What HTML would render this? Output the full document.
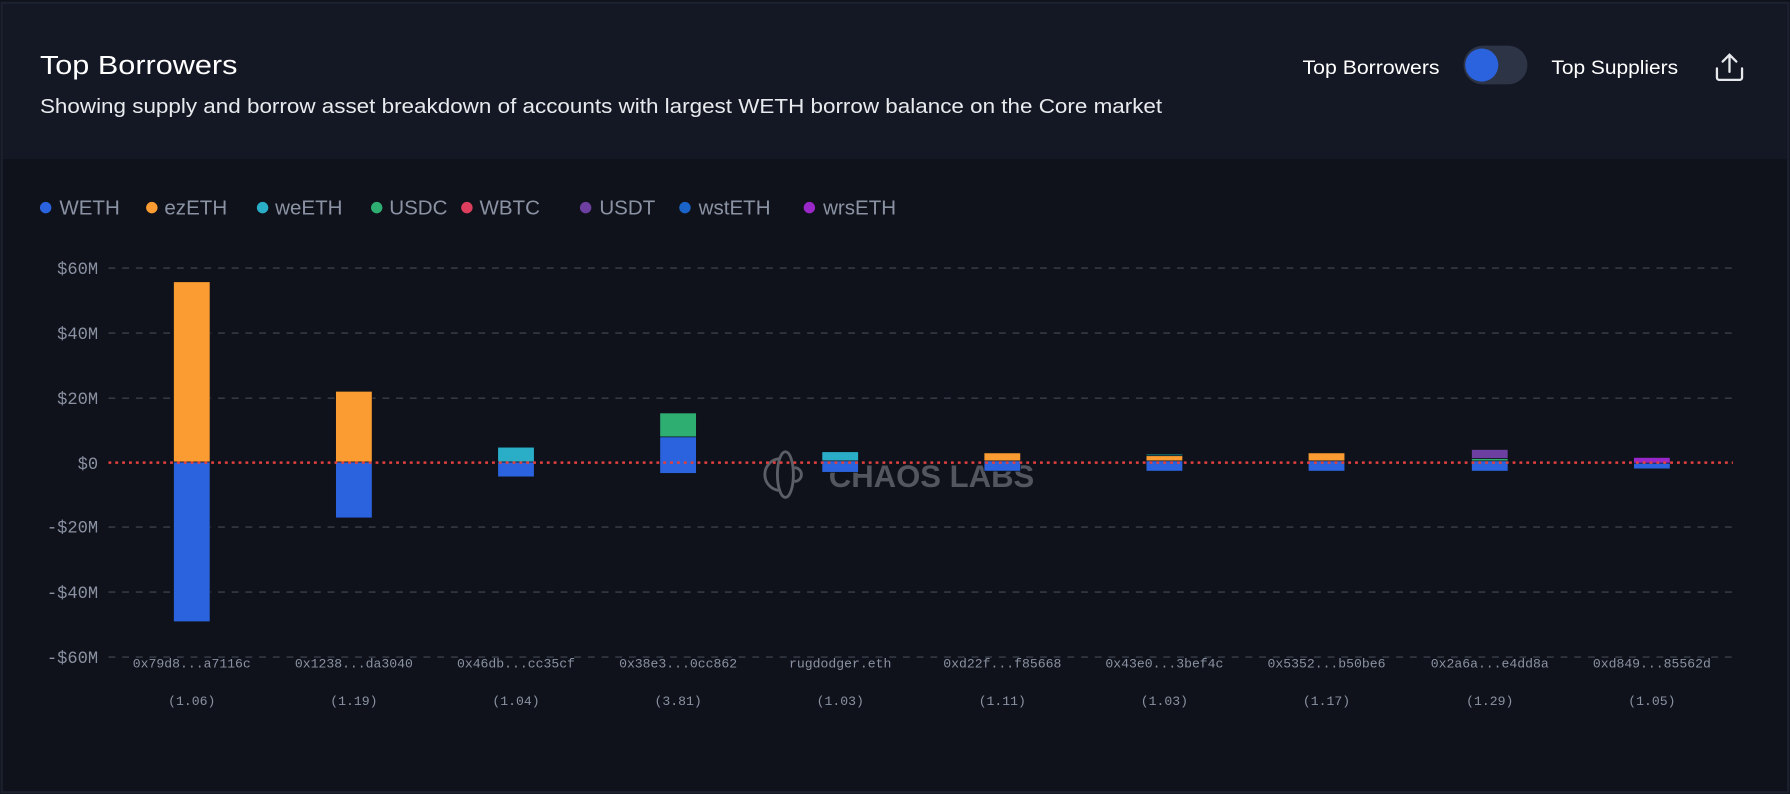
<!DOCTYPE html>
<html><head><meta charset="utf-8"><style>
html,body{margin:0;padding:0;background:#0f121a;}
svg{display:block}
</style></head><body>
<svg width="1790" height="794" viewBox="0 0 1568 696" preserveAspectRatio="none" xmlns="http://www.w3.org/2000/svg">
<rect x="0" y="0" width="1568" height="696" fill="#0f121a"/>
<rect x="1.5" y="2.5" width="1565" height="692" fill="none" stroke="#1c2130" stroke-width="2"/>
<rect x="2.5" y="3.5" width="1563" height="136" fill="#141824"/>
<g font-family="Liberation Sans, sans-serif" fill="#ffffff">
<text x="35" y="65" font-size="23" textLength="173" lengthAdjust="spacingAndGlyphs">Top Borrowers</text>
<text x="35" y="99" font-size="17.5" fill="#e8eaee" textLength="983" lengthAdjust="spacingAndGlyphs">Showing supply and borrow asset breakdown of accounts with largest WETH borrow balance on the Core market</text>
<text x="1141" y="65" font-size="17" textLength="120" lengthAdjust="spacingAndGlyphs">Top Borrowers</text>
<text x="1359" y="65" font-size="17" textLength="111" lengthAdjust="spacingAndGlyphs">Top Suppliers</text>
</g>
<rect x="1282" y="40" width="56" height="34" rx="17" fill="#2d3446"/>
<circle cx="1298" cy="57" r="14.5" fill="#2b63de"/>
<g stroke="#e6e8ec" stroke-width="2" fill="none" stroke-linecap="round">
<path d="M1504 60 v8 a2 2 0 0 0 2 2 h18 a2 2 0 0 0 2 -2 v-8"/>
<path d="M1515 63 V48 M1509 54 l6 -6 6 6"/>
</g>
<g font-family="Liberation Sans, sans-serif" font-size="18" fill="#8a92a3">
<circle cx="40" cy="182" r="5" fill="#2b63de"/><text x="52" y="188">WETH</text>
<circle cx="133" cy="182" r="5" fill="#fa9c31"/><text x="144" y="188">ezETH</text>
<circle cx="230" cy="182" r="5" fill="#2aaec8"/><text x="241" y="188">weETH</text>
<circle cx="330" cy="182" r="5" fill="#2fae72"/><text x="341" y="188">USDC</text>
<circle cx="409" cy="182" r="5" fill="#dd3e5e"/><text x="420" y="188">WBTC</text>
<circle cx="513" cy="182" r="5" fill="#6c3fa0"/><text x="525" y="188">USDT</text>
<circle cx="600" cy="182" r="5" fill="#1a63c9"/><text x="612" y="188">wstETH</text>
<circle cx="709" cy="182" r="5" fill="#9a28c8"/><text x="721" y="188">wrsETH</text>
</g>
<g stroke="#3a3f4b" stroke-width="1.2" stroke-dasharray="6,6">
<line x1="95" y1="235" x2="1518" y2="235"/>
<line x1="95" y1="292" x2="1518" y2="292"/>
<line x1="95" y1="349" x2="1518" y2="349"/>
<line x1="95" y1="462" x2="1518" y2="462"/>
<line x1="95" y1="519" x2="1518" y2="519"/>
<line x1="95" y1="576" x2="1518" y2="576"/>
</g>
<g font-family="Liberation Mono, monospace" font-size="15" fill="#8a92a3" text-anchor="end">
<text x="86" y="240">$60M</text><text x="86" y="297">$40M</text><text x="86" y="354">$20M</text>
<text x="86" y="411">$0</text><text x="86" y="467">-$20M</text><text x="86" y="524">-$40M</text><text x="86" y="581">-$60M</text>
</g>
<g font-family="Liberation Sans, sans-serif" font-size="28" font-weight="bold" fill="#5b5e66" opacity="0.9">
<text x="726" y="427" textLength="180" lengthAdjust="spacingAndGlyphs">CHAOS LABS</text>
</g>
<g fill="none" stroke="#5b5e66" stroke-width="2.5">
<ellipse cx="688" cy="416" rx="7" ry="20"/>
<path d="M684 402 a12 12 0 1 0 0 28"/><path d="M696 410 a6 6 0 1 1 0 12"/>
</g>
<g stroke="#0f121a" stroke-width="0.6">
<rect x="152" y="247" width="32" height="158" fill="#fa9c31"/>
<rect x="152" y="405" width="32" height="140" fill="#2b63de"/>
<rect x="294" y="343" width="32" height="62" fill="#fa9c31"/>
<rect x="294" y="405" width="32" height="49" fill="#2b63de"/>
<rect x="436" y="392" width="32" height="13" fill="#2aaec8"/>
<rect x="436" y="405" width="32" height="13" fill="#2b63de"/>
<rect x="578" y="362" width="32" height="21" fill="#2fae72"/>
<rect x="578" y="383" width="32" height="32" fill="#2b63de"/>
<rect x="720" y="396" width="32" height="8" fill="#2aaec8"/>
<rect x="720" y="404" width="32" height="10" fill="#2b63de"/>
<rect x="862" y="397" width="32" height="7" fill="#fa9c31"/>
<rect x="862" y="404" width="32" height="9" fill="#2b63de"/>
<rect x="1004" y="398" width="32" height="1.5" fill="#1a8a8a"/>
<rect x="1004" y="399.5" width="32" height="4.5" fill="#fa9c31"/>
<rect x="1004" y="404" width="32" height="9" fill="#2b63de"/>
<rect x="1146" y="397" width="32" height="7" fill="#fa9c31"/>
<rect x="1146" y="404" width="32" height="9" fill="#2b63de"/>
<rect x="1289" y="394" width="32" height="8" fill="#6c3fa0"/>
<rect x="1289" y="402" width="32" height="2" fill="#2fae72"/>
<rect x="1289" y="404" width="32" height="9" fill="#2b63de"/>
<rect x="1431" y="401" width="32" height="5" fill="#9a28c8"/>
<rect x="1431" y="406" width="32" height="5" fill="#2b63de"/>
</g>
<line x1="95" y1="405.5" x2="1518" y2="405.5" stroke="#e0403e" stroke-width="2.2" stroke-dasharray="2.5,3.5"/>
<g font-family="Liberation Mono, monospace" font-size="11.5" fill="#8a92a3" text-anchor="middle">
<text x="168" y="585">0x79d8...a7116c</text><text x="168" y="618">(1.06)</text>
<text x="310" y="585">0x1238...da3040</text><text x="310" y="618">(1.19)</text>
<text x="452" y="585">0x46db...cc35cf</text><text x="452" y="618">(1.04)</text>
<text x="594" y="585">0x38e3...0cc862</text><text x="594" y="618">(3.81)</text>
<text x="736" y="585">rugdodger.eth</text><text x="736" y="618">(1.03)</text>
<text x="878" y="585">0xd22f...f85668</text><text x="878" y="618">(1.11)</text>
<text x="1020" y="585">0x43e0...3bef4c</text><text x="1020" y="618">(1.03)</text>
<text x="1162" y="585">0x5352...b50be6</text><text x="1162" y="618">(1.17)</text>
<text x="1305" y="585">0x2a6a...e4dd8a</text><text x="1305" y="618">(1.29)</text>
<text x="1447" y="585">0xd849...85562d</text><text x="1447" y="618">(1.05)</text>
</g>
</svg>
</body></html>
